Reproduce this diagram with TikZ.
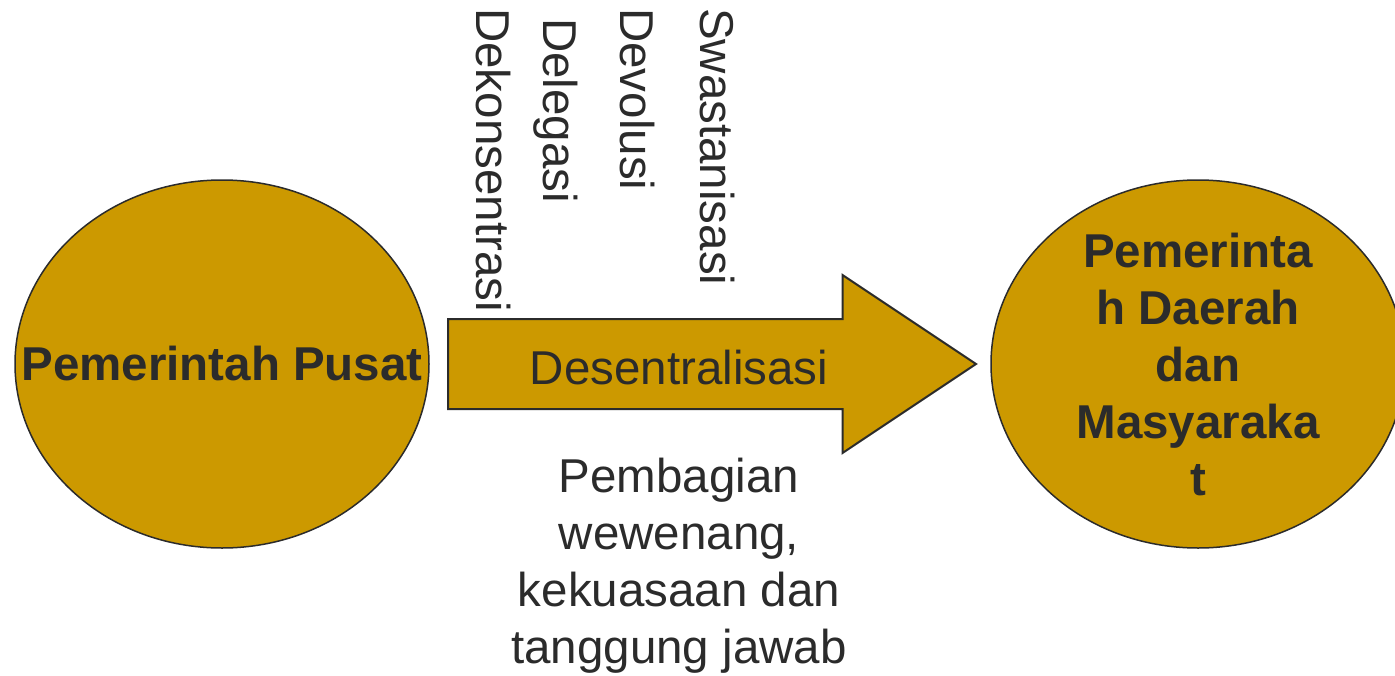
\documentclass[tikz,border=0pt]{standalone}
\usepackage{fontspec}
\setmainfont{Liberation Sans}
\usetikzlibrary{shapes.geometric,shapes.arrows}
\definecolor{gold}{RGB}{204,153,0}
\definecolor{ink}{RGB}{43,43,43}

\begin{document}
\begin{tikzpicture}[x=1pt,y=-1pt,every node/.style={inner sep=0pt,text=ink,font=\fontsize{47.5}{57}\selectfont}]
	\useasboundingbox (0,0) rectangle (1395,675);
	\clip (0,0) rectangle (1395,675);
	\node[draw=ink,ellipse,fill=gold,line width=1.5pt,minimum width=414pt,minimum height=368pt] (pusat)at(222,364) {};
	\node[draw=ink,ellipse,fill=gold,line width=1.5pt,minimum width=414pt,minimum height=368pt] (daerah)at(1198,364) {};
	\node[font=\fontsize{47.5}{57}\selectfont\bfseries] (pusatlabel)at(pusat) {Pemerintah Pusat};
	\node[align=center,font=\fontsize{47.5}{57}\selectfont\bfseries] (daerahlabel)at(daerah) {Pemerinta\\h Daerah\\dan\\Masyaraka\\t};
	\node[draw=ink,single arrow,fill=gold,line width=2pt,inner xsep=0pt,inner ysep=44pt,minimum height=528pt,minimum width=176pt,single arrow head extend=44pt,single arrow tip angle=67.4,anchor=tail] (arah)at(447,364) {};
	\node[anchor=base] (desen)at(679,384) {Desentralisasi};
	\node[rotate=-90,anchor=base west] (dekon)at(476,8) {Dekonsentrasi};
	\node[rotate=-90,anchor=base west] (dele)at(543,18) {Delegasi};
	\node[rotate=-90,anchor=base west] (devo)at(620,8) {Devolusi};
	\node[rotate=-90,anchor=base west] (swasta)at(700,8) {Swastanisasi};
	\node[align=center,anchor=north] (bagi)at(679,458) {Pembagian\\wewenang,\\kekuasaan dan\\tanggung jawab};
\end{tikzpicture}
\end{document}
